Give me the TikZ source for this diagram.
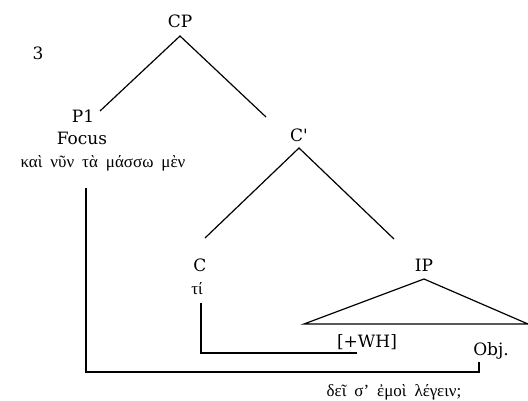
\documentclass[tikz,border=0pt]{standalone}
\usepackage{fontspec}
\setmainfont{DejaVu Serif}
\newfontfamily\greekfont{Liberation Serif}
\newcommand{\gsp}{\hspace{8pt}}
\tikzset{
  lbl/.style={inner sep=0pt, font=\fontsize{17}{20}\selectfont},
  grk/.style={inner sep=0pt, font=\greekfont\fontsize{17}{20}\selectfont},
  br/.style={line width=1.2pt},
}
\begin{document}
\begin{tikzpicture}[x=1pt,y=-1pt]
\useasboundingbox (0,0) rectangle (528,401);
\node[lbl] (CP) at (180,21) {CP};
\node[lbl] (three) at (38,53) {3};
\node[lbl] (P1) at (83,116) {P1};
\node[lbl] (Focus) at (82,138) {Focus};
\node[grk] (g1) at (103,163) {καὶ\gsp νῦν\gsp τὰ\gsp μάσσω\gsp μὲν};
\node[lbl] (Cbar) at (299,135) {C\textquotesingle};
\node[lbl] (C) at (200,265) {C};
\node[grk] (ti) at (197,289) {τί};
\node[lbl] (IP) at (424,265) {IP};
\node[lbl] (WH) at (367,342) {[+WH]};
\node[lbl] (Obj) at (491,351) {Obj.};
\node[grk] (g2) at (394,392) {δεῖ\gsp σ’\gsp ἐμοὶ\gsp λέγειν;};
% tree coordinates
\coordinate (cpA) at (180,36);
\coordinate (p1E) at (100,111);
\coordinate (cbN) at (266,117);
\coordinate (cbA) at (299,148);
\coordinate (cN) at (205,238);
\coordinate (ipN) at (394,239);
\coordinate (ipA) at (424,279);
\coordinate (ipL) at (304,324);
\coordinate (ipR) at (528,324);
\coordinate (tiB) at (201,303);
\coordinate (tiC) at (201,353);
\coordinate (whE) at (357,353);
\coordinate (fT) at (86,188);
\coordinate (fC) at (86,372);
\coordinate (oC) at (479,372);
\coordinate (oB) at (479,362);
\draw[br] (p1E) -- (cpA) -- (cbN);
\draw[br] (cN) -- (cbA) -- (ipN);
\draw[br] (ipR) -- (ipA) -- (ipL) -- cycle;
\draw[br] (tiB) -- (tiC) -- (whE);
\draw[br] (fT) -- (fC) -- (oC) -- (oB);
\end{tikzpicture}
\end{document}
